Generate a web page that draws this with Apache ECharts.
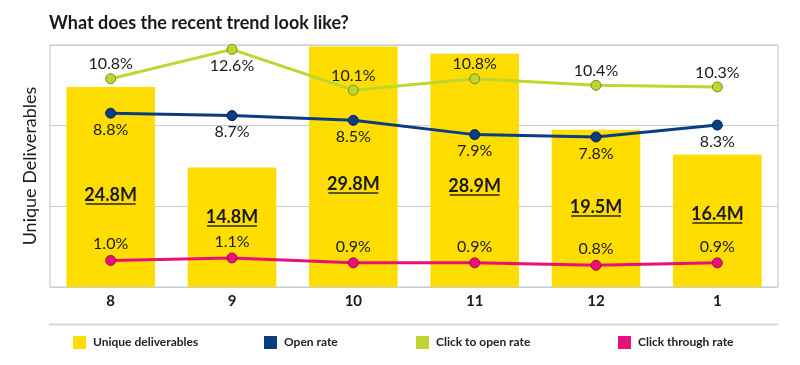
<!DOCTYPE html>
<html>
<head>
<meta charset="utf-8">
<script src="https://cdn.jsdelivr.net/npm/echarts@6/dist/echarts.min.js"></script>
<style>
  html, body { margin: 0; padding: 0; background: #ffffff; }
  #chart { width: 800px; height: 365px; }
</style>
</head>
<body>
<div id="chart"></div>
<script>
const categories = ['8', '9', '10', '11', '12', '1'];
const uniqueDeliverables = [24.8, 14.8, 29.8, 28.9, 19.5, 16.4];
const openRate = [8.8, 8.7, 8.5, 7.9, 7.8, 8.3];
const clickToOpenRate = [10.8, 12.6, 10.1, 10.8, 10.4, 10.3];
const clickThroughRate = [1.0, 1.1, 0.9, 0.9, 0.8, 0.9];
const seriesNames = ['Unique deliverables', 'Open rate', 'Click to open rate', 'Click through rate'];

const FONT = 'Lato';
const TEXT = '#1a1a1a';
const COLORS = { bar: '#ffdd00', open: '#0b3e80', cto: '#bed62f', ctr: '#e8117a' };

const ctoMax = Math.max(...clickToOpenRate);
const ctoData = clickToOpenRate.map(v => v === ctoMax ? { value: v, label: { position: 'bottom', distance: 3 } } : v);

// bar value labels sit a little below the middle for tall bars, a little above for short ones
const barData = uniqueDeliverables.map(v => ({ value: v, label: { distance: Math.round(27 + 2.2 * v) } }));

const pctLabel = (pos, dist) => ({
  show: true, position: pos, distance: dist,
  fontFamily: FONT, fontSize: 16, color: TEXT,
  formatter: p => Number(p.value).toFixed(1) + '%'
});

const legendLefts = [73, 264, 416, 618];

const chart = echarts.init(document.getElementById('chart'), null, { renderer: 'canvas' });
chart.setOption({
  animation: false,
  backgroundColor: '#ffffff',
  title: {
    text: 'What does the recent trend look like?',
    left: 44, top: 9,
    textStyle: { fontFamily: FONT, fontSize: 18, fontWeight: 'bold', color: TEXT }
  },
  legend: seriesNames.map((n, i) => ({
    data: [{ name: n, icon: 'rect' }], left: legendLefts[i], top: 336, padding: 0,
    itemWidth: 13, itemHeight: 13, itemGap: 0,
    itemStyle: { borderWidth: 0 },
    lineStyle: { width: 0 },
    selectedMode: false,
    textStyle: { fontFamily: FONT, fontSize: 12, fontWeight: 'bold', color: '#222222', padding: [0, 0, 0, 2] }
  })),
  graphic: [{
    type: 'line', shape: { x1: 49, y1: 324.5, x2: 778, y2: 324.5 },
    style: { stroke: '#c9d0d8', lineWidth: 1.5 }, silent: true
  }],
  grid: { left: 50, right: 22, top: 45, bottom: 78, show: true, borderColor: '#bcc5ce', borderWidth: 1 },
  xAxis: {
    type: 'category', data: categories,
    axisLine: { show: false }, axisTick: { show: false },
    axisLabel: { fontFamily: FONT, fontSize: 15, fontWeight: 'bold', color: TEXT, margin: 7 }
  },
  yAxis: [
    {
      type: 'value', min: 0, max: 30, interval: 10,
      name: 'Unique Deliverables', nameLocation: 'middle', nameGap: 11, nameRotate: 90,
      nameTextStyle: { fontFamily: FONT, fontSize: 18, color: TEXT },
      axisLine: { show: false }, axisTick: { show: false }, axisLabel: { show: false },
      splitLine: { lineStyle: { color: '#c5ced6', width: 1 } }
    },
    { type: 'value', show: false, min: 1.49, max: 11.67, splitLine: { show: false } },
    { type: 'value', show: false, min: -1.96, max: 12.87, splitLine: { show: false } },
    { type: 'value', show: false, min: -0.085, max: 9.79, splitLine: { show: false } }
  ],
  series: [
    {
      name: seriesNames[0], type: 'bar', yAxisIndex: 0, data: barData,
      barWidth: '73%', itemStyle: { color: COLORS.bar }, z: 1,
      label: {
        show: true, position: 'insideBottom',
        formatter: p => '{v|' + p.value.toFixed(1) + 'M}\n{u|}',
        rich: {
          v: { fontFamily: FONT, fontSize: 18, fontWeight: 'bold', color: TEXT, lineHeight: 15 },
          u: { width: 50, height: 1.5, lineHeight: 2, backgroundColor: '#2a2a10' }
        }
      }
    },
    {
      name: seriesNames[1], type: 'line', yAxisIndex: 1, data: openRate, z: 3,
      symbol: 'circle', symbolSize: 10,
      lineStyle: { color: COLORS.open, width: 3 },
      itemStyle: { color: COLORS.open, borderColor: '#06285a', borderWidth: 1 },
      label: pctLabel('bottom', 3)
    },
    {
      name: seriesNames[2], type: 'line', yAxisIndex: 2, data: ctoData, z: 3,
      symbol: 'circle', symbolSize: 10,
      lineStyle: { color: COLORS.cto, width: 3 },
      itemStyle: { color: COLORS.cto, borderColor: '#7d8c1e', borderWidth: 1 },
      label: pctLabel('top', 1)
    },
    {
      name: seriesNames[3], type: 'line', yAxisIndex: 3, data: clickThroughRate, z: 3,
      symbol: 'circle', symbolSize: 10,
      lineStyle: { color: COLORS.ctr, width: 3 },
      itemStyle: { color: COLORS.ctr, borderColor: '#9c0d50', borderWidth: 1 },
      label: pctLabel('top', 3)
    }
  ]
});
</script>
</body>
</html>
